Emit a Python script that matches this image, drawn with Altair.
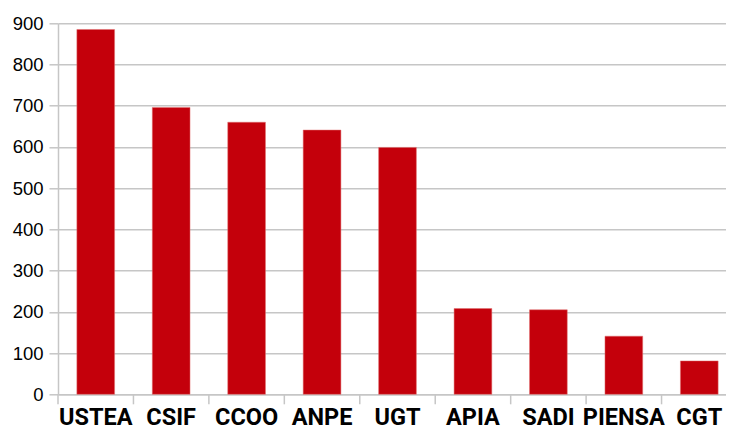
import altair as alt
import pandas as pd

categories = ["USTEA", "CSIF", "CCOO", "ANPE", "UGT", "APIA", "SADI", "PIENSA", "CGT"]
votes = [885, 696, 660, 641, 599, 208, 205, 141, 81]
y_ticks = [0, 100, 200, 300, 400, 500, 600, 700, 800, 900]
title_text = "Elecciones sindicales enseñanza pública 2018: Votos"

df = pd.DataFrame({"sindicato": categories, "votos": votes})

W, H = 668, 371          # visible plot area
RANGE_W = 679            # band range (last band runs past the right edge)
STEP = RANGE_W / 9.0
BAR_RED = "#c4000b"
GRID = "#c6c6c6"

x_enc = alt.X(
    "sindicato:N",
    sort=categories,
    title=None,
    scale=alt.Scale(paddingInner=0.5, paddingOuter=0.25, range=[0, RANGE_W]),
    axis=alt.Axis(
        labelFont="Roboto",
        labelFontWeight="bold",
        labelFontSize=23.5,
        labelColor="#000000",
        labelBaseline="alphabetic",
        labelPadding=30,
        labelAngle=0,
        ticks=False,
        domain=True,
        domainColor=GRID,
        domainWidth=1.5,
        grid=False,
        labelOverlap=False,
    ),
)

y_enc = alt.Y(
    "votos:Q",
    title=None,
    scale=alt.Scale(domain=[0, 900], nice=False),
    axis=alt.Axis(
        values=y_ticks,
        labelFont="Liberation Sans",
        labelFontSize=18.5,
        labelColor="#000000",
        labelPadding=6,
        tickSize=9,
        tickColor=GRID,
        tickWidth=1.5,
        domainColor=GRID,
        domainWidth=1.5,
        gridColor=GRID,
        gridWidth=1.5,
    ),
)

bars = alt.Chart(df).mark_bar(color=BAR_RED, stroke="#e07070", strokeWidth=0.5).encode(
    x=x_enc, y=y_enc
)

ticks = alt.Chart(df).mark_rule(
    color=GRID, strokeWidth=1.5, xOffset=-STEP * 0.25
).encode(
    x=alt.X("sindicato:N", sort=categories, bandPosition=0),
    y=alt.value(H),
    y2=alt.value(H + 10),
)

chart = (
    alt.layer(bars, ticks)
    .properties(
        width=W,
        height=H,
        title=alt.TitleParams(
            text=title_text,
            anchor="start",
            font="Liberation Sans",
            fontSize=20,
            fontWeight="bold",
            color="#000000",
            offset=20,
            dx=10,
        ),
        autosize=alt.AutoSizeParams(type="none"),
        padding={"left": 50, "top": 15.3, "right": 0, "bottom": 35.7},
    )
    .configure_view(stroke=None)
)

chart.save("out.html", embed_options={"renderer": "svg", "actions": False})
